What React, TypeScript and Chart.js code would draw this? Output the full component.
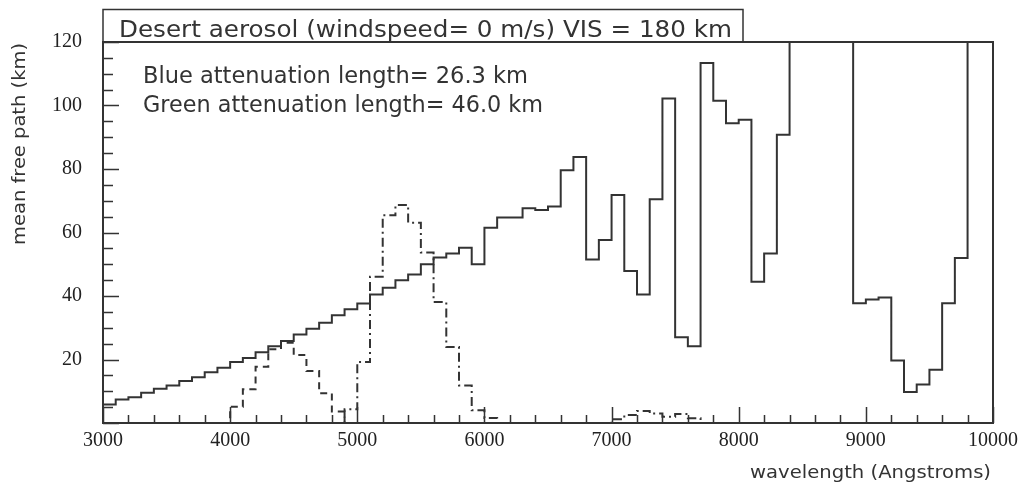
import { useEffect, useRef } from "react";
import { Chart, registerables } from "chart.js";

Chart.register(...registerables);

// Histogram binning: 70 bins of 100 Å covering 3000–10000 Å
const BIN_START = 3000;
const BIN_WIDTH = 100;
const BIN_END = 10000;

// Aerosol mean free path (km) per wavelength bin; bins above 120 km run off the plot
const meanFreePath = [
  5.8, 7.4, 8.1, 9.5, 10.8, 11.8, 13.2, 14.4, 16.0, 17.4,
  19.2, 20.5, 22.3, 24.2, 25.8, 27.9, 29.7, 31.6, 33.9, 35.8,
  37.6, 40.5, 42.6, 45.0, 46.8, 50.0, 52.1, 53.4, 55.2, 50.0,
  61.5, 64.7, 64.7, 67.6, 67.1, 68.2, 79.6, 83.8, 51.5, 57.6,
  71.8, 47.9, 40.5, 70.5, 102.2, 27.0, 24.2, 113.4, 101.5, 94.4,
  95.5, 44.5, 53.4, 90.8, 140, 140, 140, 140, 140, 37.7,
  38.9, 39.5, 19.7, 9.8, 12.1, 16.8, 37.7, 52.0, 140, 140,
];

// Blue filter response, drawn on the same vertical scale
const blueResponse = [
  0, 0, 0, 0, 0, 0, 0, 0, 0, 0,
  5.1, 10.6, 17.7, 23.2, 25.3, 21.4, 16.4, 9.4, 3.6, 0,
  0, 0, 0, 0, 0, 0, 0, 0, 0, 0,
  0, 0, 0, 0, 0, 0, 0, 0, 0, 0,
  0, 0, 0, 0, 0, 0, 0, 0, 0, 0,
  0, 0, 0, 0, 0, 0, 0, 0, 0, 0,
  0, 0, 0, 0, 0, 0, 0, 0, 0, 0,
];

// Green filter response, with its small red-side leak near 7000–7600 Å
const greenResponse = [
  0, 0, 0, 0, 0, 0, 0, 0, 0, 0,
  0, 0, 0, 0, 0, 0, 0, 0, 0, 4.3,
  19.2, 46.1, 65.4, 68.7, 63.1, 53.7, 38.1, 23.9, 11.8, 4.0,
  1.6, 0, 0, 0, 0, 0, 0, 0, 0, 0,
  1.2, 2.5, 3.8, 3.0, 2.0, 2.8, 1.5, 0, 0, 0,
  0, 0, 0, 0, 0, 0, 0, 0, 0, 0,
  0, 0, 0, 0, 0, 0, 0, 0, 0, 0,
];

const xTickLabels = [3000, 4000, 5000, 6000, 7000, 8000, 9000, 10000];
const yTickLabels = [20, 40, 60, 80, 100, 120];

const titleText = "Desert aerosol (windspeed= 0 m/s) VIS = 180 km";
const blueText = "Blue attenuation length= 26.3 km";
const greenText = "Green attenuation length= 46.0 km";
const xTitle = "wavelength (Angstroms)";
const yTitle = "mean free path (km)";

const INK = "#333333";
const SANS = "'DejaVu Sans', sans-serif";

// Outline of a histogram: the lower edge opens it at zero, then each point sits
// on a bin's upper edge and carries that bin's content (drawn with stepped "after")
function histogramPoints(values: number[]) {
  const pts = [{ x: BIN_START, y: 0 }];
  values.forEach((v, i) => pts.push({ x: BIN_START + (i + 1) * BIN_WIDTH, y: v }));
  pts.push({ x: BIN_END, y: 0 });
  return pts;
}

// Draws text stretched or squeezed horizontally so it spans the given width
function fitText(
  ctx: CanvasRenderingContext2D,
  text: string,
  x: number,
  y: number,
  width: number,
  font: string,
  angle = 0
) {
  ctx.save();
  ctx.font = font;
  const w = ctx.measureText(text).width;
  ctx.translate(x, y);
  if (angle) ctx.rotate(angle);
  ctx.scale(width / w, 1);
  ctx.textAlign = "left";
  ctx.textBaseline = "alphabetic";
  ctx.fillStyle = INK;
  ctx.fillText(text, 0, 0);
  ctx.restore();
}

const framePlugin = {
  id: "hbookFrame",
  afterDatasetsDraw(chart: any) {
    const { ctx, chartArea: a, scales } = chart;
    const xs = scales.x;
    const ys = scales.y;
    ctx.save();
    ctx.strokeStyle = INK;

    // plot frame
    ctx.lineWidth = 2;
    ctx.strokeRect(a.left, a.top, a.right - a.left, a.bottom - a.top);

    // inward tick marks
    ctx.lineWidth = 1.5;
    ctx.beginPath();
    for (let w = BIN_START; w <= BIN_END; w += 200) {
      const px = Math.round(xs.getPixelForValue(w)) + 0.5;
      const len = w % 1000 === 0 ? 16 : 8;
      ctx.moveTo(px, a.bottom);
      ctx.lineTo(px, a.bottom - len);
    }
    for (let v = 0; v <= 120; v += 5) {
      const py = Math.round(ys.getPixelForValue(v)) + 0.5;
      const len = v % 20 === 0 ? 16 : 10;
      ctx.moveTo(a.left, py);
      ctx.lineTo(a.left + len, py);
    }
    ctx.stroke();

    // title box
    ctx.lineWidth = 1.5;
    ctx.strokeRect(a.left, 9.5, 743 - a.left, a.top - 9.5);
    ctx.restore();

    fitText(ctx, titleText, 119, 37, 613, `23px ${SANS}`);
    fitText(ctx, blueText, 143, 83, 385, `23px ${SANS}`);
    fitText(ctx, greenText, 143, 112, 400, `23px ${SANS}`);
    fitText(ctx, xTitle, 750, 478, 241, `18px ${SANS}`);
    fitText(ctx, yTitle, 25, 245, 202, `18px ${SANS}`, -Math.PI / 2);
  },
};

export default function App() {
  const canvasRef = useRef<HTMLCanvasElement | null>(null);

  useEffect(() => {
    const canvas = canvasRef.current;
    if (!canvas) return;
    const tickFont = { family: "Liberation Serif", size: 20 };
    const histogram = (data: { x: number; y: number }[], dash: number[]) => ({
      data,
      borderColor: INK,
      borderWidth: 2,
      borderDash: dash,
      stepped: "after" as const,
      pointRadius: 0,
      fill: false,
      clip: 0,
    });

    const chart = new Chart(canvas, {
      type: "line",
      data: {
        datasets: [
          { label: "mean free path", ...histogram(histogramPoints(meanFreePath), []) },
          { label: "blue", ...histogram(histogramPoints(blueResponse), [7, 5]) },
          { label: "green", ...histogram(histogramPoints(greenResponse), [9, 4, 2, 4]) },
        ],
      },
      options: {
        responsive: false,
        animation: false,
        layout: { padding: { top: 42, right: 26, left: 0, bottom: 0 } },
        plugins: {
          legend: { display: false },
          tooltip: { enabled: false },
        },
        scales: {
          x: {
            type: "linear",
            min: BIN_START,
            max: BIN_END,
            grid: { display: false, drawTicks: false },
            border: { display: false },
            afterBuildTicks: (s: any) => {
              s.ticks = xTickLabels.map((v) => ({ value: v }));
            },
            ticks: {
              font: tickFont,
              color: "#222",
              padding: 6,
              maxRotation: 0,
              autoSkip: false,
              callback: (v: any) => String(v),
            },
            afterFit: (s: any) => {
              s.height = 64;
              s.paddingLeft = 0;
              s.paddingRight = 0;
            },
          },
          y: {
            type: "linear",
            min: 0,
            max: 120,
            grid: { display: false, drawTicks: false },
            border: { display: false },
            afterBuildTicks: (s: any) => {
              s.ticks = yTickLabels.map((v) => ({ value: v }));
            },
            ticks: {
              font: tickFont,
              color: "#222",
              padding: 21,
              callback: (v: any) => String(v),
            },
            afterFit: (s: any) => {
              s.width = 103;
              s.paddingTop = 0;
              s.paddingBottom = 0;
            },
          },
        },
      },
      plugins: [framePlugin],
    });
    return () => chart.destroy();
  }, []);

  return (
    <div style={{ position: "absolute", left: 0, top: 0, width: 1019, height: 487, background: "#fff" }}>
      <canvas ref={canvasRef} width={1019} height={487} style={{ display: "block" }} />
    </div>
  );
}
